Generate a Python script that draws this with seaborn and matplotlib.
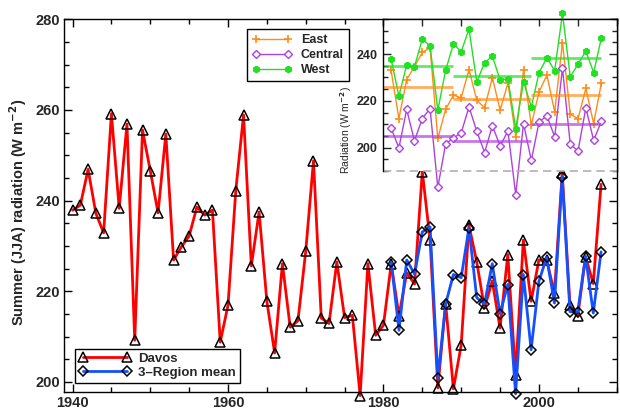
import matplotlib
matplotlib.use("Agg")
import matplotlib.pyplot as plt
import numpy as np
import pandas as pd
import seaborn as sns
from matplotlib.lines import Line2D
from matplotlib.ticker import MultipleLocator

# Davos summer (JJA) radiation, 1940-2008
davos_years = list(range(1940, 2009))
davos_vals = [
    237.9, 239.0, 246.9, 237.2, 232.9, 259.2, 238.3, 256.9, 209.2, 255.6,
    246.6, 237.3, 254.7, 226.9, 229.8, 232.2, 238.6, 236.8, 237.9, 208.8,
    216.9, 242.2, 258.9, 225.6, 237.5, 217.8, 206.4, 226.1, 212.1, 213.5,
    228.8, 248.8, 214.1, 212.9, 226.5, 214.2, 214.7, 197.0, 226.1, 210.3,
    212.5, 226.1, 214.6, 224.1, 221.6, 246.4, 231.3, 198.7, 217.3, 198.5,
    208.1, 234.6, 226.5, 216.3, 222.3, 211.9, 228.1, 201.6, 231.3, 217.8,
    226.9, 226.9, 219.6, 246.0, 216.9, 214.5, 227.6, 221.7, 243.6,
]

# regional series, 1981-2008
region_years = list(range(1981, 2009))
mean3_vals = [
    226.4, 211.4, 226.9, 223.8, 233.1, 234.2, 200.9, 217.2, 223.7, 223.0,
    234.0, 218.6, 217.2, 226.1, 215.1, 221.5, 197.4, 223.7, 207.1, 222.2,
    227.5, 217.4, 245.3, 215.5, 215.5, 227.7, 215.2, 228.7,
]
east_vals = [
    233.1, 212.4, 229.1, 234.6, 240.7, 242.7, 203.9, 216.4, 222.4, 221.3,
    233.4, 220.3, 217.0, 229.9, 216.0, 227.7, 204.6, 233.1, 209.6, 223.9,
    231.0, 215.3, 244.9, 214.3, 212.4, 225.3, 210.3, 227.7,
]
central_vals = [
    208.4, 199.9, 216.3, 202.9, 212.4, 216.7, 183.0, 201.6, 204.1, 206.3,
    217.4, 207.0, 197.9, 209.3, 200.7, 207.1, 179.9, 210.3, 194.6, 211.0,
    213.6, 204.6, 233.9, 201.4, 198.6, 217.0, 203.1, 211.3,
]
west_vals = [
    237.9, 222.1, 235.3, 234.6, 246.3, 243.6, 216.0, 233.1, 244.3, 241.0,
    250.7, 228.1, 236.3, 239.1, 228.9, 229.4, 208.1, 228.1, 217.4, 232.1,
    238.4, 232.9, 257.4, 230.3, 235.7, 241.3, 232.1, 247.0,
]

# period means shown as horizontal bars in the inset
period_start = [1980, 1989, 1999]
period_end = [1989, 1999, 2008]
east_means = [226.0, 221.0, 222.6]
central_means = [205.0, 203.0, 210.3]
west_means = [234.9, 230.7, 238.4]

RED = "#ff0000"
BLUE = "#1450ff"
ORANGE = "#ff8c1a"
PURPLE = "#b040e0"
GREEN = "#22e022"

sns.set_theme(style="ticks")
plt.rcParams["font.family"] = ["Liberation Sans", "DejaVu Sans"]
plt.rcParams["font.weight"] = "bold"
plt.rcParams["axes.linewidth"] = 1.0

fig = plt.figure(figsize=(6.2, 4.09), dpi=100)
ax = fig.add_axes([64 / 620, 1 - 391.5 / 409, 553 / 620, 372.2 / 409])

davos = pd.DataFrame({"year": davos_years, "rad": davos_vals})
regions = pd.DataFrame({
    "year": region_years,
    "mean": mean3_vals,
    "east": east_vals,
    "central": central_vals,
    "west": west_vals,
})

sns.lineplot(data=davos, x="year", y="rad", ax=ax, color=RED, linewidth=2.0,
             marker="^", markersize=7.5, markerfacecolor="none",
             markeredgecolor="black", markeredgewidth=1.1, legend=False,
             clip_on=False)
sns.lineplot(data=regions, x="year", y="mean", ax=ax, color=BLUE, linewidth=2.0,
             marker="D", markersize=5.5, markerfacecolor="none",
             markeredgecolor="black", markeredgewidth=1.1, legend=False,
             clip_on=False)

ax.set_xlim(1938.9, 2010.05)
ax.set_ylim(197.9, 280)
ax.xaxis.set_major_locator(MultipleLocator(20))
ax.xaxis.set_minor_locator(MultipleLocator(5))
ax.yaxis.set_major_locator(MultipleLocator(20))
ax.yaxis.set_minor_locator(MultipleLocator(5))
ax.tick_params(which="both", direction="in", top=True, right=True, color="black")
ax.tick_params(which="major", length=6, width=1, labelsize=10.5, pad=3)
ax.tick_params(which="minor", length=3.5, width=1)
for lab in ax.get_xticklabels() + ax.get_yticklabels():
    lab.set_fontweight("bold")
ax.set_xlabel("")
ax.set_ylabel("Summer (JJA) radiation (W m$^{\\mathbf{-2}}$)", fontsize=10.5,
              fontweight="bold")
ax.yaxis.set_label_coords(-0.064, 0.48)
for sp in ax.spines.values():
    sp.set_color("black")

main_handles = [
    Line2D([], [], color=RED, linewidth=2.0, marker="^", markersize=7.5,
           markerfacecolor="none", markeredgecolor="black", markeredgewidth=1.1),
    Line2D([], [], color=BLUE, linewidth=2.0, marker="D", markersize=5.5,
           markerfacecolor="none", markeredgecolor="black", markeredgewidth=1.1),
]
leg = ax.legend(main_handles, ["Davos", "3\u2013Region mean"], loc="lower left",
                bbox_to_anchor=(0.02, 0.023), borderaxespad=0, numpoints=2,
                handlelength=3.9, fancybox=False, framealpha=1,
                edgecolor="black", prop={"weight": "bold", "size": 9.5},
                borderpad=0.3, labelspacing=0.15, handletextpad=0.6)
leg.get_frame().set_linewidth(1.0)

# inset with the three regions
ins = fig.add_axes([383.3 / 620, 1 - 171 / 409, 233.7 / 620, 152 / 409])
ins.set_facecolor("white")
sns.lineplot(data=regions, x="year", y="east", ax=ins, color=ORANGE, linewidth=1.0,
             marker="+", markersize=6, markeredgecolor=ORANGE,
             markeredgewidth=1.2, legend=False, clip_on=False)
sns.lineplot(data=regions, x="year", y="central", ax=ins, color=PURPLE, linewidth=1.0,
             marker="D", markersize=4.2, markerfacecolor="white",
             markeredgecolor=PURPLE, markeredgewidth=1.0, legend=False, clip_on=False)
sns.lineplot(data=regions, x="year", y="west", ax=ins, color=GREEN, linewidth=1.0,
             marker=(6, 2, 0), markersize=5, markeredgecolor=GREEN,
             markeredgewidth=1.8, legend=False, clip_on=False)

ins.hlines(east_means, period_start, period_end, colors=ORANGE, alpha=0.7, linewidth=2)
ins.hlines(central_means, period_start, period_end, colors=PURPLE, alpha=0.7, linewidth=2)
ins.hlines(west_means, period_start, period_end, colors=GREEN, alpha=0.7, linewidth=2)
ins.axhline(190, color="#b0b0b0", linestyle=(0, (5, 3)), linewidth=1.2, clip_on=False)

ins.set_xlim(1980, 2010)
ins.set_ylim(190, 255)
ins.spines["bottom"].set_visible(False)
for sp in ["top", "left", "right"]:
    ins.spines[sp].set_color("black")
ins.xaxis.set_major_locator(MultipleLocator(5))
ins.yaxis.set_major_locator(MultipleLocator(20))
ins.yaxis.set_minor_locator(MultipleLocator(5))
ins.tick_params(axis="x", which="both", direction="in", top=True, bottom=False,
                labelbottom=False, length=5, width=1)
ins.tick_params(axis="y", which="both", direction="in", left=True, right=True, width=1)
ins.tick_params(axis="y", which="major", length=6, labelsize=9, pad=4)
ins.tick_params(axis="y", which="minor", length=3.5)
for lab in ins.get_yticklabels():
    lab.set_fontweight("bold")
ins.set_xlabel("")
ins.set_ylabel("Radiation (W m$^{-2}$)", fontsize=7.5, fontweight="normal")
ins.yaxis.set_label_coords(-0.125, 0.27)

ins_handles = [
    Line2D([], [], color=ORANGE, linewidth=1.0, marker="+", markersize=6,
           markeredgewidth=1.2),
    Line2D([], [], color=PURPLE, linewidth=1.0, marker="D", markersize=4.2,
           markerfacecolor="white", markeredgecolor=PURPLE),
    Line2D([], [], color=GREEN, linewidth=1.0, marker=(6, 2, 0), markersize=5,
           markeredgewidth=1.8),
]
leg2 = ax.legend(ins_handles, ["East", "Central", "West"], loc="upper left",
                 bbox_to_anchor=(0.331, 0.974), borderaxespad=0, numpoints=2,
                 handlelength=3.2, fancybox=False, framealpha=1,
                 edgecolor="black", prop={"weight": "bold", "size": 9},
                 borderpad=0.4, labelspacing=0.25, handletextpad=0.7)
leg2.get_frame().set_linewidth(1.0)
ax.add_artist(leg)

fig.savefig("out.png", dpi=100)
plt.close(fig)
